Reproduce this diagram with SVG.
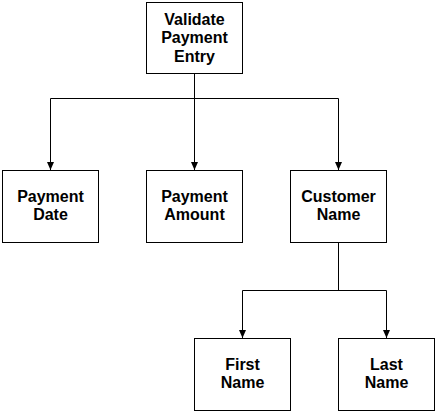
<svg xmlns="http://www.w3.org/2000/svg" width="436" height="412" viewBox="0 0 436 412">
<style>
.box{fill:#fff;stroke:#000;stroke-width:1}
.lbl{font-family:"Liberation Sans",Arial,sans-serif;font-weight:bold;font-size:16px;fill:#000;text-anchor:middle}
.conn{fill:none;stroke:#000;stroke-width:1}
</style>
<defs>
<marker id="arr" markerWidth="8" markerHeight="8" refX="8" refY="4" orient="auto" markerUnits="userSpaceOnUse">
<path d="M0,0.5 L8,4 L0,7.5 Z" fill="#000"/>
</marker>
</defs>
<rect width="436" height="412" fill="#fff"/>
<g id="connectors">
<path class="conn" d="M194.5,73.5 V98.5 M50.5,98.5 H338.5"/>
<path class="conn" d="M50.5,98.5 V170" marker-end="url(#arr)"/>
<path class="conn" d="M194.5,98.5 V170" marker-end="url(#arr)"/>
<path class="conn" d="M338.5,98.5 V170" marker-end="url(#arr)"/>
<path class="conn" d="M338.5,242.5 V290.5 M242.5,290.5 H386.5"/>
<path class="conn" d="M242.5,290.5 V338" marker-end="url(#arr)"/>
<path class="conn" d="M386.5,290.5 V338" marker-end="url(#arr)"/>
</g>
<g id="validate">
<rect class="box" x="146.5" y="2.5" width="96" height="71"/>
<text class="lbl" x="194.5" y="24.5">Validate</text>
<text class="lbl" x="194.5" y="43">Payment</text>
<text class="lbl" x="194.5" y="61.5">Entry</text>
</g>
<g id="paymentDate">
<rect class="box" x="2.5" y="170.5" width="96" height="72"/>
<text class="lbl" x="50.5" y="201.5">Payment</text>
<text class="lbl" x="50.5" y="220">Date</text>
</g>
<g id="paymentAmount">
<rect class="box" x="146.5" y="170.5" width="96" height="72"/>
<text class="lbl" x="194.5" y="201.5">Payment</text>
<text class="lbl" x="194.5" y="220">Amount</text>
</g>
<g id="customerName">
<rect class="box" x="290.5" y="170.5" width="96" height="72"/>
<text class="lbl" x="338.5" y="201.5">Customer</text>
<text class="lbl" x="338.5" y="220">Name</text>
</g>
<g id="firstName">
<rect class="box" x="194.5" y="338.5" width="96" height="72"/>
<text class="lbl" x="242.5" y="369.5">First</text>
<text class="lbl" x="242.5" y="388">Name</text>
</g>
<g id="lastName">
<rect class="box" x="338.5" y="338.5" width="96" height="72"/>
<text class="lbl" x="386.5" y="369.5">Last</text>
<text class="lbl" x="386.5" y="388">Name</text>
</g>
</svg>
